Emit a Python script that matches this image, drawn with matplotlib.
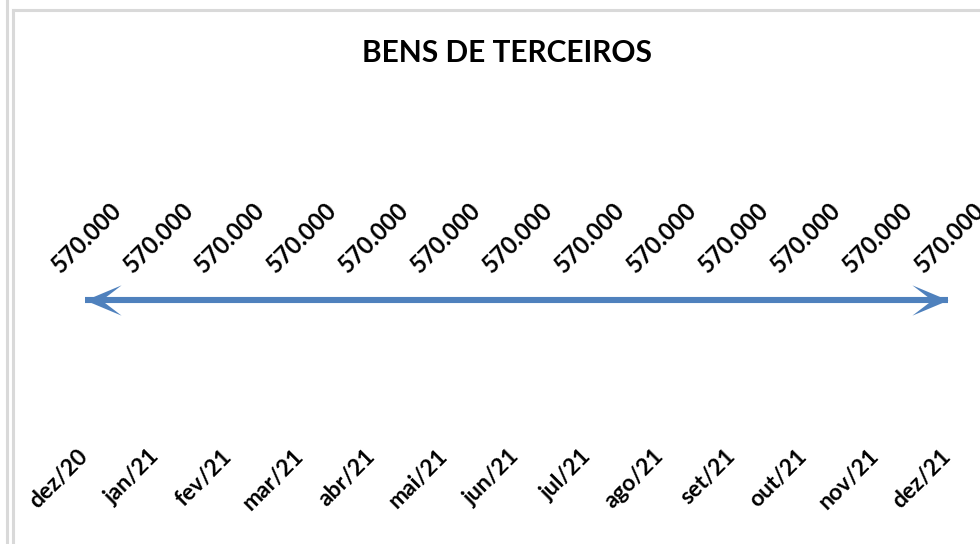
import numpy as np
import matplotlib
matplotlib.use("Agg")
import matplotlib.pyplot as plt
from matplotlib.path import Path
from matplotlib.lines import Line2D
from matplotlib.transforms import ScaledTranslation

plt.rcParams['font.family'] = ['Lato', 'DejaVu Sans']

# data
months = ['dez/20', 'jan/21', 'fev/21', 'mar/21', 'abr/21', 'mai/21', 'jun/21',
          'jul/21', 'ago/21', 'set/21', 'out/21', 'nov/21', 'dez/21']
values = [570000] * 13
title = 'BENS DE TERCEIROS'

line_color = '#4F81BD'


def fmt_br(v):
    return f'{v:,.0f}'.replace(',', '.')


fig = plt.figure(figsize=(9.8, 5.44), dpi=100)
W, H = 980, 544

# chart frame (partially cut in the reference)
fig.add_artist(Line2D([13 / W, 13 / W], [0, 1 - 10 / H], color='#D9D9D9', lw=2.2))
fig.add_artist(Line2D([13 / W, 1], [1 - 10 / H, 1 - 10 / H], color='#D9D9D9', lw=2.2))
fig.add_artist(Line2D([7 / W, 7 / W], [0, 1], color='#D9D9D9', lw=2.2))

left, right = 85 / W, 948 / W
bottom, top = 1 - 440 / H, 1 - 150 / H
ax = fig.add_axes([left, bottom, right - left, top - bottom])

x = np.arange(len(months))
y = np.array(values, dtype=float)

ax.plot(x, y, color=line_color, lw=4.4, solid_capstyle='butt', clip_on=False, zorder=3)

# stealth arrow heads at both ends (tip at origin)
head = Path([(0, 0), (1, 0.42), (0.45, 0), (1, -0.42), (0, 0)],
            [Path.MOVETO, Path.LINETO, Path.LINETO, Path.LINETO, Path.CLOSEPOLY])
head_r = Path([(0, 0), (-1, 0.42), (-0.45, 0), (-1, -0.42), (0, 0)],
              [Path.MOVETO, Path.LINETO, Path.LINETO, Path.LINETO, Path.CLOSEPOLY])
ax.plot(x[:1], y[:1], marker=head, markersize=52, color=line_color, mew=0, clip_on=False, zorder=4)
ax.plot(x[-1:], y[-1:], marker=head_r, markersize=52, color=line_color, mew=0, clip_on=False, zorder=4)

# data labels
for xi, yi in zip(x, y):
    ax.annotate(fmt_br(yi), (xi, yi), xytext=(1, 45), textcoords='offset points',
                rotation=45, ha='center', va='center', fontsize=17, fontweight='bold',
                color='black', annotation_clip=False)

ax.set_xlim(0, 12)
frac = (440 - 300) / 290
ax.set_ylim(values[0] - frac * 1000, values[0] + (1 - frac) * 1000)

ax.set_xticks(x)
ax.set_xticklabels(months, rotation=45, ha='right', rotation_mode='anchor',
                   fontsize=16.5, fontweight='bold')
ax.tick_params(axis='x', length=0, pad=4)
shift = ScaledTranslation(-8 / 100, 0, fig.dpi_scale_trans)
for lab in ax.get_xticklabels():
    lab.set_transform(lab.get_transform() + shift)
ax.set_yticks([])
for s in ax.spines.values():
    s.set_visible(False)
ax.patch.set_alpha(0)

fig.text(507 / W, 1 - 53 / H, title, ha='center', va='center', fontsize=21.5, fontweight='bold')

fig.savefig('out.png', dpi=100)
